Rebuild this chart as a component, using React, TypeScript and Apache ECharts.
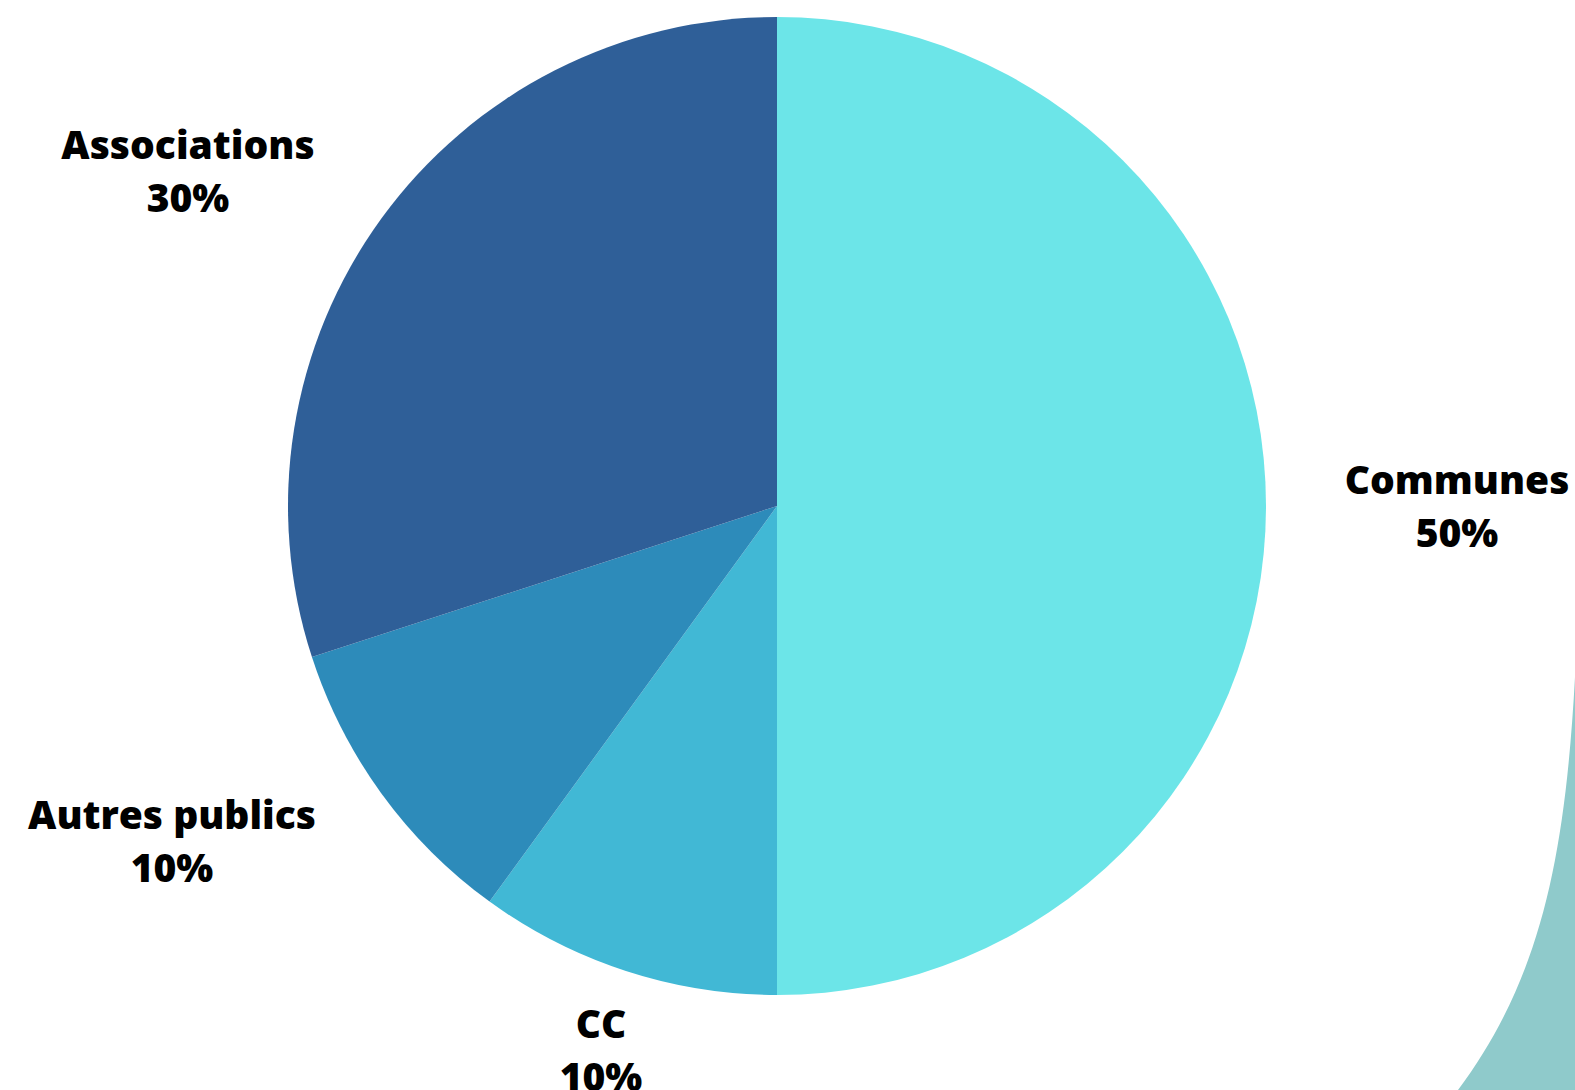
import React, { useEffect, useRef } from "react";
import * as echarts from "echarts";

const categories = ["Communes", "CC", "Autres publics", "Associations"];
const values = [50, 10, 10, 30];
const colors = ["#6CE5E8", "#41B8D5", "#2D8BBA", "#2F5F98"];
// label anchor positions (px) per slice
const labelPos: [number, number][] = [
  [1457, 505],
  [601, 1049],
  [172, 840],
  [188, 170],
];

echarts.graphic.registerShape(
  "tealBlob",
  echarts.graphic.extendPath(
    "M 1575 677 C 1565 860, 1540 980, 1458 1090 L 1575 1090 Z",
    {}
  )
);

export default function App() {
  const ref = useRef<HTMLDivElement>(null);
  useEffect(() => {
    document.body.style.margin = "0";
    const chart = echarts.init(ref.current!, null, { renderer: "svg" });
    chart.setOption({
      animation: false,
      backgroundColor: "#ffffff",
      graphic: [
        {
          type: "tealBlob",
          x: 0,
          y: 0,
          z: -10,
          style: { fill: "#8FCACB" },
        },
      ],
      series: [
        {
          type: "pie",
          center: [777, 506],
          radius: 489,
          startAngle: 90,
          clockwise: true,
          data: categories.map((c, i) => ({
            name: c,
            value: values[i],
            itemStyle: { color: colors[i] },
          })),
          labelLine: { show: false },
          label: {
            show: true,
            position: "outside",
            formatter: "{b}\n{d}%",
            fontFamily: "Open Sans",
            fontWeight: 800,
            fontSize: 39,
            lineHeight: 53,
            color: "#000000",
            align: "center",
          },
          labelLayout: (params: any) => ({
            x: labelPos[params.dataIndex][0],
            y: labelPos[params.dataIndex][1],
            align: "center",
            verticalAlign: "middle",
          }),
          emphasis: { disabled: true },
        },
      ],
    });
    return () => chart.dispose();
  }, []);
  return <div ref={ref} style={{ width: 1575, height: 1090 }} />;
}
